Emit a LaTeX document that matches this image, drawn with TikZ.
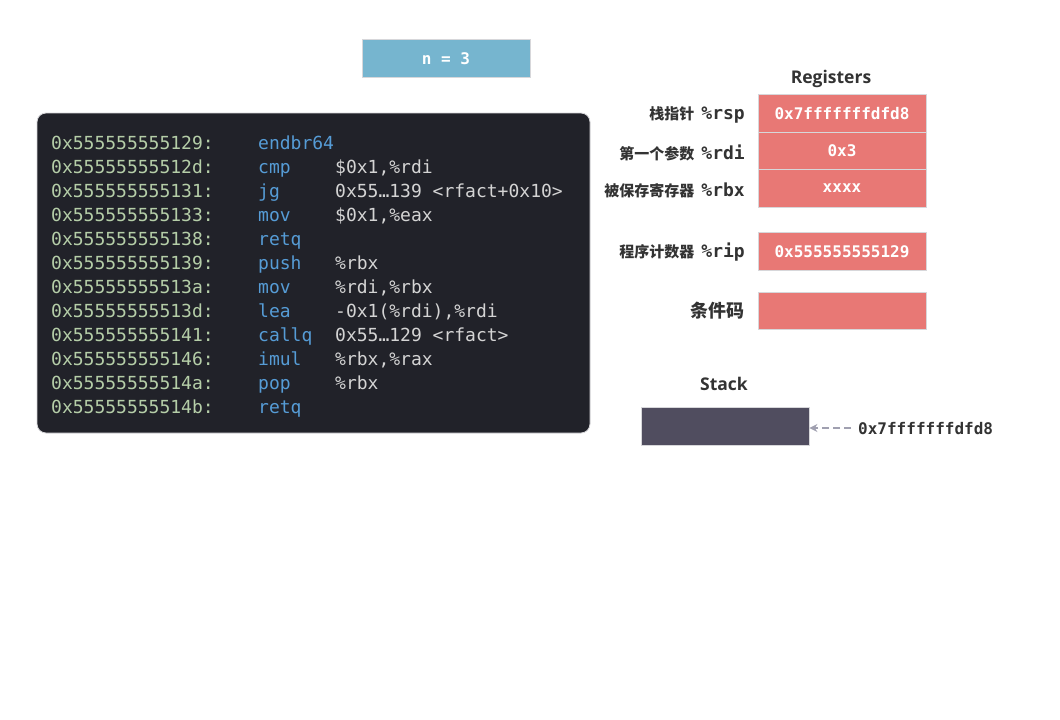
\documentclass[tikz,border=0pt]{standalone}
\usepackage{fontspec}
\setmainfont{Open Sans}
\setmonofont{DejaVu Sans Mono}
\newfontfamily\cjk{Noto Sans CJK SC}
\usetikzlibrary{arrows.meta}
\definecolor{codebg}{RGB}{33,34,41}
\definecolor{addrc}{RGB}{181,206,168}
\definecolor{mnc}{RGB}{86,156,214}
\definecolor{opc}{RGB}{212,212,212}
\definecolor{regred}{RGB}{232,120,117}
\definecolor{nblue}{RGB}{118,181,207}
\definecolor{stackc}{RGB}{80,77,95}
\definecolor{edgec}{RGB}{215,215,218}
\definecolor{labc}{RGB}{51,51,51}
\definecolor{arrc}{RGB}{160,160,176}
\tikzset{
  codetxt/.style={anchor=base west, inner sep=0pt, font=\ttfamily\fontsize{18}{20}\selectfont},
  addr/.style={codetxt, text=addrc},
  mnem/.style={codetxt, text=mnc},
  oper/.style={codetxt, text=opc},
  regbox/.style={draw=edgec, line width=0.8pt, fill=regred, minimum width=168pt, minimum height=37.5pt, inner sep=0pt, text=white, font=\ttfamily\bfseries\fontsize{16}{18}\selectfont},
  reglab/.style={anchor=east, inner sep=0pt, text=labc},
  title/.style={font=\bfseries\fontsize{17.5}{20}\selectfont, text=labc, inner sep=0pt},
}
\newcommand\cnlab[1]{{\cjk\bfseries\fontsize{15}{17}\selectfont #1}}
\newcommand\rglab[1]{{\ttfamily\bfseries\fontsize{18}{20}\selectfont #1}}
\newcommand\codeline[4]{%
  \node[addr] (a#1) at (51,{125.5+24*#1}) {#2};
  \node[mnem] (m#1) at (258,{125.5+24*#1}) {#3};
  \node[oper] (o#1) at (335,{125.5+24*#1}) {#4};}
\begin{document}
\begin{tikzpicture}[x=1pt,y=-1pt]
\useasboundingbox[fill=white] (0,0) rectangle (1060,720);
% n = 3
\node[draw=edgec, line width=0.8pt, fill=nblue, minimum width=168pt, minimum height=37.5pt, inner sep=0pt, text=white, font=\ttfamily\bfseries\fontsize{16}{18}\selectfont] (n) at (446,58.5) {n = 3};
% code block
\node[draw=edgec, line width=0.8pt, fill=codebg, rounded corners=9pt, minimum width=553pt, minimum height=320pt, inner sep=0pt] (code) at (313.5,273) {};
\codeline{1}{0x555555555129:}{endbr64}{}
\codeline{2}{0x55555555512d:}{cmp}{\$0x1,\%rdi}
\codeline{3}{0x555555555131:}{jg}{0x55…139 <rfact+0x10>}
\codeline{4}{0x555555555133:}{mov}{\$0x1,\%eax}
\codeline{5}{0x555555555138:}{retq}{}
\codeline{6}{0x555555555139:}{push}{\%rbx}
\codeline{7}{0x55555555513a:}{mov}{\%rdi,\%rbx}
\codeline{8}{0x55555555513d:}{lea}{-0x1(\%rdi),\%rdi}
\codeline{9}{0x555555555141:}{callq}{0x55…129 <rfact>}
\codeline{10}{0x555555555146:}{imul}{\%rbx,\%rax}
\codeline{11}{0x55555555514a:}{pop}{\%rbx}
\codeline{12}{0x55555555514b:}{retq}{}
% registers
\node[title] (regt) at (831,78.5) {Registers};
\node[regbox] (rsp) at (842,113.5) {0x7fffffffdfd8};
\node[regbox] (rdi) at (842,151) {0x3};
\node[regbox] (rbx) at (842,188.5) {xxxx};
\node[regbox] (rip) at (842,251.5) {0x555555555129};
\node[regbox] (cc) at (842,311) {};
\node[reglab] (lrsp) at (745,115) {\cnlab{栈指针}\hspace{7pt}\rglab{\%rsp}};
\node[reglab] (lrdi) at (745,152.5) {\cnlab{第一个参数}\hspace{7pt}\rglab{\%rdi}};
\node[reglab] (lrbx) at (745,190) {\cnlab{被保存寄存器}\hspace{7pt}\rglab{\%rbx}};
\node[reglab] (lrip) at (745,252.5) {\cnlab{程序计数器}\hspace{7pt}\rglab{\%rip}};
\node[reglab, font=\cjk\bfseries\fontsize{18}{20}\selectfont] (lcc) at (745,311) {条件码};
% stack
\node[title] (stt) at (724,384) {Stack};
\node[draw=edgec, line width=0.8pt, fill=stackc, minimum width=168pt, minimum height=37.5pt, inner sep=0pt] (stk) at (725,426.5) {};
\node[anchor=west, inner sep=0pt, text=labc, font=\ttfamily\bfseries\fontsize{16}{18}\selectfont] (sptr) at (858,429) {0x7fffffffdfd8};
\coordinate (as) at (851,428);
\draw[arrc, line width=2.4pt, dash pattern=on 7pt off 4pt, -{Stealth[length=8pt,width=8pt]}] (as) -- (stk.east |- as);
\end{tikzpicture}
\end{document}
